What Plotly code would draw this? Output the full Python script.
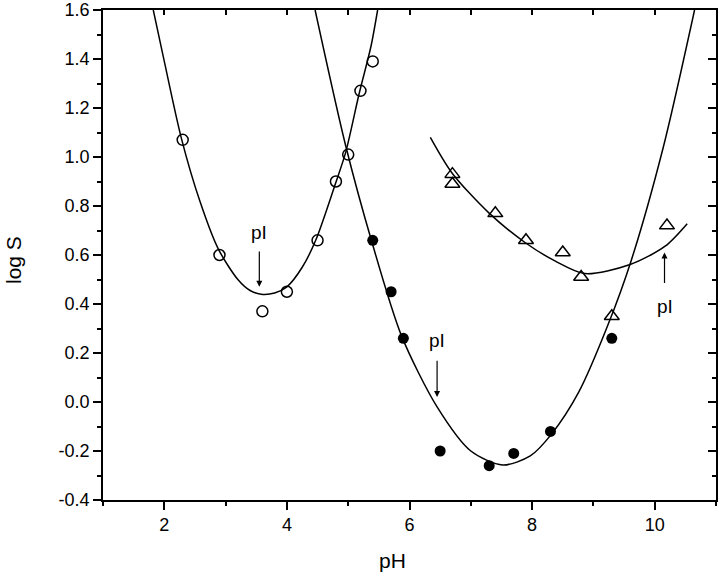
import plotly.graph_objects as go

# Data
open_x = [2.3, 2.9, 3.6, 4.0, 4.5, 4.8, 5.0, 5.2, 5.4]
open_y = [1.07, 0.60, 0.37, 0.45, 0.66, 0.90, 1.01, 1.27, 1.39]

filled_x = [5.4, 5.7, 5.9, 6.5, 7.3, 7.7, 8.3, 9.3]
filled_y = [0.66, 0.45, 0.26, -0.20, -0.26, -0.21, -0.12, 0.26]

tri_x = [6.7, 6.7, 7.4, 7.9, 8.5, 8.8, 9.3, 10.2]
tri_y = [0.93, 0.89, 0.77, 0.66, 0.61, 0.51, 0.35, 0.72]

# Fitted curves, points
fit_open_x = [1.82, 2.0, 2.28, 2.58, 2.88, 3.2, 3.4, 3.58, 3.8, 4.0, 4.25, 4.47, 4.79, 4.96, 5.18, 5.37, 5.48]
fit_open_y = [1.60, 1.39, 1.075, 0.82, 0.625, 0.50, 0.455, 0.44, 0.445, 0.47, 0.55, 0.66, 0.89, 1.02, 1.26, 1.45, 1.60]

fit_filled_x = [4.46, 4.96, 5.39, 5.87, 6.45, 7.0, 7.52, 7.97, 8.32, 8.76, 9.23, 9.62, 10.14, 10.65]
fit_filled_y = [1.60, 1.045, 0.65, 0.27, -0.02, -0.20, -0.257, -0.22, -0.13, 0.04, 0.31, 0.58, 1.04, 1.60]

fit_tri_x = [6.34, 6.69, 7.29, 7.89, 8.38, 8.86, 9.6, 10.17, 10.53]
fit_tri_y = [1.08, 0.936, 0.773, 0.65, 0.575, 0.524, 0.561, 0.636, 0.728]

y_tickvals = [-0.4, -0.2, 0.0, 0.2, 0.4, 0.6, 0.8, 1.0, 1.2, 1.4, 1.6]
y_ticktext = ["-0.4", "-0.2", "0.0", "0.2", "0.4", "0.6", "0.8", "1.0", "1.2", "1.4", "1.6"]
x_tickvals = [2, 4, 6, 8, 10]
x_ticktext = ["2", "4", "6", "8", "10"]

# pI annotations: (text x, text y, arrow tail y, arrow head y)
pi_labels = [
    (3.55, 0.69, 0.62, 0.47),
    (6.45, 0.25, 0.175, 0.02),
    (10.16, 0.39, 0.48, 0.61),
]

FONT = "Arial, Liberation Sans, Helvetica, sans-serif"

fig = go.Figure()
line_style = dict(color="black", width=1.5, shape="spline", smoothing=0.8)
for fx, fy in [(fit_open_x, fit_open_y), (fit_filled_x, fit_filled_y), (fit_tri_x, fit_tri_y)]:
    fig.add_trace(go.Scatter(x=fx, y=fy, mode="lines", line=line_style,
                             showlegend=False, hoverinfo="skip"))

fig.add_trace(go.Scatter(x=open_x, y=open_y, mode="markers", showlegend=False,
                         marker=dict(symbol="circle-open", size=11, color="black",
                                     line=dict(width=1.5, color="black"))))
fig.add_trace(go.Scatter(x=filled_x, y=filled_y, mode="markers", showlegend=False,
                         marker=dict(symbol="circle", size=11, color="black")))
fig.add_trace(go.Scatter(x=tri_x, y=tri_y, mode="markers", showlegend=False,
                         marker=dict(symbol="triangle-up-open", size=13, color="black",
                                     line=dict(width=1.5, color="black"))))
# dummy trace for mirrored (inside-tick) axes
fig.add_trace(go.Scatter(x=[], y=[], xaxis="x2", yaxis="y2", showlegend=False))

for tx, ty, tail, head in pi_labels:
    fig.add_annotation(x=tx, y=ty, text="pI", showarrow=False,
                       font=dict(family=FONT, size=19, color="black"),
                       xref="x", yref="y")
    fig.add_annotation(x=tx, y=head, ax=tx, ay=tail, xref="x", yref="y",
                       axref="x", ayref="y", text="", showarrow=True,
                       arrowhead=2, arrowsize=1, arrowwidth=1.2, arrowcolor="black")

fig.add_annotation(text="log S", xref="paper", yref="paper", x=-0.145, y=0.49,
                   textangle=-90, showarrow=False, xanchor="center", yanchor="middle",
                   font=dict(family=FONT, size=21, color="black"))
fig.add_annotation(text="pH", xref="paper", yref="paper", x=0.472, y=-0.124,
                   showarrow=False, xanchor="center", yanchor="middle",
                   font=dict(family=FONT, size=21, color="black"))

axis_common = dict(showgrid=False, zeroline=False, showline=True, linecolor="black",
                   linewidth=1.5, tickcolor="black", tickwidth=1.5, automargin=False)

fig.update_layout(
    width=720, height=576,
    margin=dict(l=103, r=4, t=10, b=76, autoexpand=False),
    paper_bgcolor="white", plot_bgcolor="white",
    font=dict(family=FONT, color="black"),
    xaxis=dict(range=[1, 11], tickvals=x_tickvals, ticktext=x_ticktext,
               ticks="outside", ticklen=8,
               minor=dict(dtick=1, tick0=1, ticks="outside", ticklen=4,
                          tickcolor="black", tickwidth=1.5),
               tickfont=dict(family=FONT, size=18), **axis_common),
    yaxis=dict(range=[-0.4, 1.6], tickvals=y_tickvals, ticktext=y_ticktext,
               ticks="outside", ticklen=8,
               minor=dict(dtick=0.1, tick0=0, ticks="outside", ticklen=4,
                          tickcolor="black", tickwidth=1.5),
               tickfont=dict(family=FONT, size=18), **axis_common),
    xaxis2=dict(range=[1, 11], overlaying="x", side="top", anchor="y2",
                tickvals=x_tickvals, showticklabels=False, ticks="inside", ticklen=5,
                minor=dict(dtick=1, tick0=1, ticks="inside", ticklen=5,
                           tickcolor="black", tickwidth=1.5),
                **axis_common),
    yaxis2=dict(range=[-0.4, 1.6], overlaying="y", side="right", anchor="x2",
                tickvals=y_tickvals, showticklabels=False, ticks="inside", ticklen=8,
                minor=dict(dtick=0.1, tick0=0, ticks="inside", ticklen=4,
                           tickcolor="black", tickwidth=1.5),
                **axis_common),
)

fig.write_html("out.html", config={"displayModeBar": False},
               post_script="document.body.style.margin='0';")
